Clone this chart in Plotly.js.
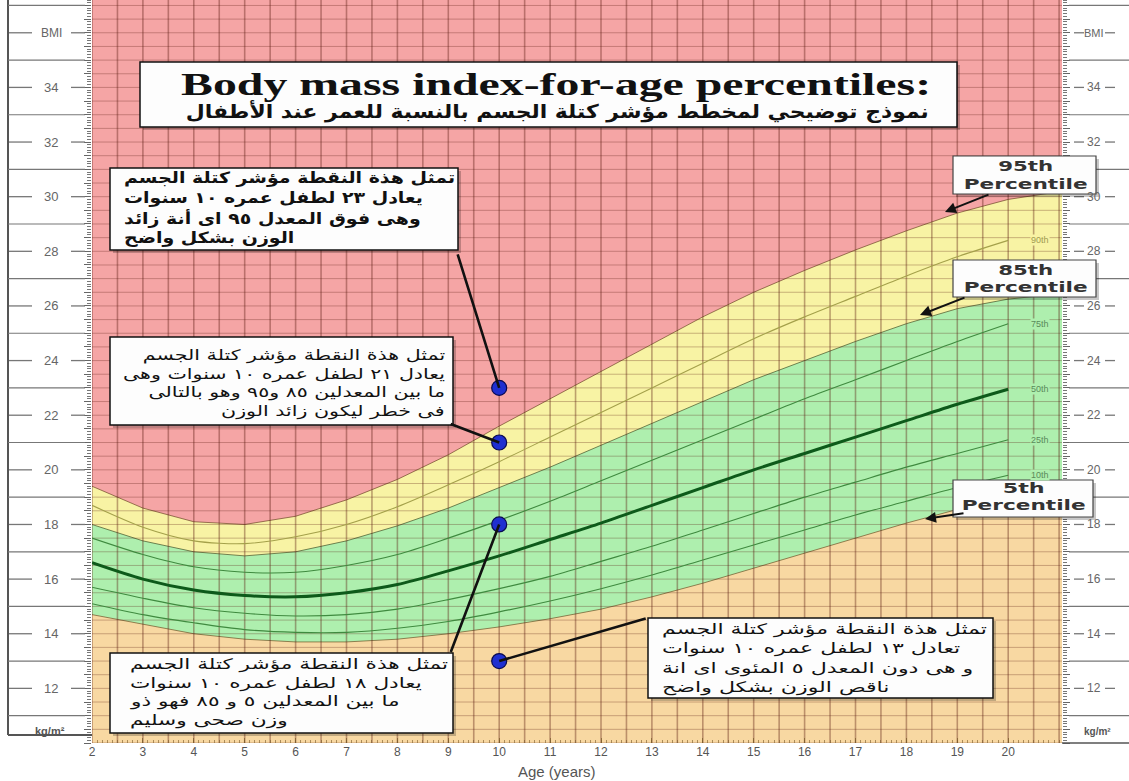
<!DOCTYPE html>
<html><head><meta charset="utf-8">
<script src="https://cdn.plot.ly/plotly-3.0.1.min.js"></script>
<style>html,body{margin:0;padding:0;background:#fff;} #chart{width:1129px;height:781px;}</style>
</head><body><div id="chart"></div>
<script>
// ---------------- data ----------------
const ages = [2,3,4,5,6,7,8,9,10,11,12,13,14,15,16,17,18,19,20];
const p10 = [15.1,14.7,14.4,14.15,14.05,14.05,14.2,14.45,14.8,15.2,15.65,16.15,16.7,17.25,17.8,18.35,18.85,19.35,19.8];
const p25 = [15.7,15.3,14.95,14.75,14.65,14.7,14.9,15.25,15.65,16.1,16.65,17.2,17.8,18.4,19.0,19.55,20.1,20.6,21.1];
const p50 = [16.6,16.0,15.6,15.4,15.35,15.5,15.8,16.3,16.85,17.45,18.05,18.7,19.35,20.0,20.6,21.2,21.8,22.4,22.95];
const p75 = [17.5,16.9,16.45,16.25,16.25,16.5,16.9,17.5,18.15,18.85,19.6,20.35,21.1,21.85,22.6,23.3,24.0,24.7,25.35];
const p90 = [18.7,17.9,17.4,17.3,17.55,18.0,18.65,19.45,20.3,21.2,22.1,23.0,23.9,24.8,25.6,26.35,27.1,27.8,28.4];

const bandAges = [2,3,4,5,6,7,8,9,10,11,12,13,14,15,16,17,18,19,20,21.06];
const band5  = [14.7,14.35,14.0,13.8,13.7,13.7,13.8,14.0,14.25,14.55,14.9,15.35,15.85,16.4,16.95,17.5,18.05,18.55,19.0,19.3];
const band85 = [18.0,17.4,17.0,16.85,17.0,17.4,17.95,18.6,19.35,20.1,20.9,21.7,22.5,23.3,24.0,24.7,25.35,25.9,26.25,26.45];
const band95 = [19.4,18.6,18.1,18.0,18.3,18.9,19.65,20.55,21.6,22.6,23.6,24.6,25.6,26.5,27.3,28.05,28.75,29.4,29.9,30.2];

const pointAges = [10,10,10,10];
const pointBMI  = [23,21,18,13];

const xTickVals = [2,3,4,5,6,7,8,9,10,11,12,13,14,15,16,17,18,19,20];
const yLabelVals = [12,14,16,18,20,22,24,26,28,30,32,34];
const pctNames = ['90th','75th','50th','25th','10th'];
const bandNames = ['95th','85th','5th'];

const titleText = 'Body mass index-for-age percentiles:';
const subtitleText = 'نموذج توضيحي لمخطط مؤشر كتلة الجسم بالنسبة للعمر عند الأطفال';
const note1 = ['تمثل هذة النقطة مؤشر كتلة الجسم','يعادل ٢٣ لطفل عمره ١٠ سنوات','وهى فوق المعدل ٩٥ اى أنة زائد','الوزن بشكل واضح'];
const note2 = ['تمثل هذة النقطة مؤشر كتلة الجسم','يعادل ٢١ لطفل عمره ١٠ سنوات وهى','ما بين المعدلين ٨٥ و٩٥ وهو بالتالى','فى خطر ليكون زائد الوزن'];
const note3 = ['تمثل هذة النقطة مؤشر كتلة الجسم','يعادل ١٨ لطفل عمره ١٠ سنوات','ما بين المعدلين ٥ و ٨٥ فهو ذو','وزن صحى وسليم'];
const note4 = ['تمثل هذة النقطة مؤشر كتلة الجسم','تعادل ١٣ لطفل عمره ١٠ سنوات','و هى دون المعدل ٥ المئوى اى انة','ناقص الوزن بشكل واضح'];

// ---------------- geometry helpers ----------------
const L = 92, R = 1062, T = 0, B = 743;
const X0 = 2, X1 = 2 + (R - L) / 50.9;
const Y0 = 10.0, Y1 = 37.2;
const fx = px => (px - L) / (R - L);
const fy = py => (B - py) / (B - T);

const PINK = '#f5a5a5', YELLOW = '#f8f3a4', GREEN = '#aeefae', ORANGE = '#f8d8a2';

// ---------------- traces ----------------
const traces = [];
traces.push({x: bandAges, y: band5, type:'scatter', mode:'lines', fill:'tozeroy', fillcolor: ORANGE,
  line:{color:'rgba(110,90,40,0.7)', width:1}, hoverinfo:'skip'});
traces.push({x: bandAges, y: band85, type:'scatter', mode:'lines', fill:'tonexty', fillcolor: GREEN,
  line:{color:'rgba(60,90,40,0.7)', width:1}, hoverinfo:'skip'});
traces.push({x: bandAges, y: band95, type:'scatter', mode:'lines', fill:'tonexty', fillcolor: YELLOW,
  line:{color:'rgba(110,70,40,0.7)', width:1}, hoverinfo:'skip'});

// grid
const vx = [], vy = [], hx = [], hy = [];
for (let a = 2; a <= X1 + 0.001; a += 0.5) { vx.push(a, a, null); vy.push(Y0, Y1, null); }
for (let b = 10; b <= Y1; b += 0.5) { hx.push(X0, X1, null); hy.push(b, b, null); }
traces.push({x: hx, y: hy, type:'scatter', mode:'lines', line:{color:'rgba(90,25,15,0.30)', width:1}, hoverinfo:'skip'});
traces.push({x: vx, y: vy, type:'scatter', mode:'lines', line:{color:'rgba(90,25,15,0.38)', width:1.6}, hoverinfo:'skip'});

// percentile lines
const pctData = [p90, p75, p50, p25, p10];
const pctColor = ['#a4a04a', '#3f8a3f', '#0d5a1a', '#3f8a3f', '#3f8a3f'];
pctData.forEach((arr, i) => {
  traces.push({x: ages, y: arr, type:'scatter', mode:'lines', line:{color: pctColor[i], width: i === 2 ? 3 : 1.1, shape:'spline', smoothing:0.8}, hoverinfo:'skip'});
});

// points
traces.push({x: pointAges, y: pointBMI, type:'scatter', mode:'markers',
  marker:{size:15, color:'#1f2fd0', line:{color:'#0a0a50', width:1.2}}, hoverinfo:'skip'});
// right axis holder
traces.push({x:[X0], y:[Y0], yaxis:'y2', type:'scatter', mode:'markers', marker:{opacity:0}, hoverinfo:'skip'});

// ---------------- shapes ----------------
const shapes = [];
const gray = '#777';
shapes.push({type:'line', xref:'paper', yref:'paper', x0:fx(8), x1:fx(8), y0:fy(0), y1:fy(735), line:{color:'#555', width:2}});
shapes.push({type:'line', xref:'paper', yref:'paper', x0:fx(8), x1:fx(92), y0:fy(735), y1:fy(735), line:{color:'#555', width:2}});
shapes.push({type:'line', xref:'paper', yref:'paper', x0:fx(1062), x1:fx(1129), y0:fy(743), y1:fy(743), line:{color:'#555', width:1.5}});
for (let b = 11; b <= 37; b += 2) {
  shapes.push({type:'line', xref:'paper', yref:'y', x0:fx(8), x1:fx(85), y0:b, y1:b, line:{color:gray, width:1.2}});
  shapes.push({type:'line', xref:'paper', yref:'y', x0:fx(1069), x1:fx(1129), y0:b, y1:b, line:{color:gray, width:1.2}});
}
const dashVals = yLabelVals.concat([36]);
dashVals.forEach(v => {
  shapes.push({type:'line', xref:'paper', yref:'y', x0:fx(9), x1:fx(32), y0:v, y1:v, line:{color:gray, width:1.3}});
  shapes.push({type:'line', xref:'paper', yref:'y', x0:fx(71), x1:fx(85), y0:v, y1:v, line:{color:gray, width:1.3}});
  shapes.push({type:'line', xref:'paper', yref:'y', x0:fx(1074), x1:fx(1084), y0:v, y1:v, line:{color:gray, width:1.3}});
  shapes.push({type:'line', xref:'paper', yref:'y', x0:fx(1105), x1:fx(1115), y0:v, y1:v, line:{color:gray, width:1.3}});
});
function box(x0, y0, x1, y1, lw, lc) {
  shapes.push({type:'rect', xref:'paper', yref:'paper', x0:fx(x0+3), x1:fx(x1+3), y0:fy(y0+3), y1:fy(y1+3), fillcolor:'rgba(0,0,0,0.22)', line:{width:0}, layer:'above'});
  shapes.push({type:'rect', xref:'paper', yref:'paper', x0:fx(x0), x1:fx(x1), y0:fy(y0), y1:fy(y1), fillcolor:'#fdfdfd', line:{color:lc || '#111', width:lw || 1.5}, layer:'above'});
}
box(140, 62, 957, 127, 1.5);
box(110, 168, 458, 250, 1.5);
box(110, 337, 453, 425, 1.5);
box(110, 653, 453, 733, 1.5);
box(648, 618, 993, 698, 1.5);
box(953, 156, 1096, 194, 1.2, '#444');
box(953, 260, 1096, 297, 1.2, '#444');
box(953, 480, 1093, 517, 1.2, '#444');

// ---------------- annotations ----------------
const ann = [];
const stretchJobs = [];
const ARF = 'DejaVu Sans, sans-serif';
const LIB = 'Liberation Sans, Arial, sans-serif';
function A(o) {
  const d = {xanchor:'center', yanchor:'middle', showarrow:false, xref:'paper', yref:'paper'};
  ann.push(Object.assign(d, o));
  return ann.length - 1;
}
yLabelVals.forEach(v => {
  A({yref:'y', x:fx(51), y:v, text:String(v), font:{family:LIB, size:13, color:'#666'}});
  A({yref:'y', x:fx(1094), y:v, text:String(v), font:{family:LIB, size:12, color:'#666'}});
});
A({yref:'y', x:fx(51), y:36, text:'BMI', font:{family:LIB, size:12, color:'#666'}});
A({yref:'y', x:fx(1094), y:36, text:'BMI', font:{family:LIB, size:11, color:'#666'}});
A({x:fx(50), y:fy(731), text:'kg/m²', font:{family:LIB, size:11, color:'#555', weight:'bold'}});
A({x:fx(1097), y:fy(731), text:'kg/m²', font:{family:LIB, size:10, color:'#555', weight:'bold'}});
A({x:fx(557), y:fy(771), text:'Age (years)', font:{family:LIB, size:15, color:'#555'}});

// title
stretchJobs.push({idx: A({x:fx(556), y:fy(84), text:titleText, font:{family:'Liberation Serif, Times New Roman, serif', size:32, color:'#111', weight:'bold'}}), target:750});
stretchJobs.push({idx: A({x:fx(557), y:fy(112), text:subtitleText, font:{family:ARF, size:19, color:'#111', weight:'bold'}}), target:743});

// callouts
const noteSpecs = [
  {lines:note1, edge:122, anchor:'left',  ys:[178,198,218,238], size:15.5, weight:'bold',   target:331},
  {lines:note2, edge:447, anchor:'right', ys:[355,374,392,411], size:14.5, weight:'normal', target:322},
  {lines:note3, edge:128, anchor:'left',  ys:[664,683,701,720], size:14.5, weight:'normal', target:318},
  {lines:note4, edge:660, anchor:'left',  ys:[629,648,668,687], size:14.5, weight:'normal', target:325}
];
const groupJobs = [];
noteSpecs.forEach(s => {
  const ids = s.lines.map((t, i) => A({x:fx(s.edge), y:fy(s.ys[i]), xanchor:s.anchor, align:s.anchor, text:t,
    font:{family:ARF, size:s.size, color:'#111', weight:s.weight}}));
  groupJobs.push({ids: ids, target: s.target});
});

// leaders from boxes to dots
const leadOff = [[-42, -135], [-50, -19], [-49, 129], [148, -43]];
pointAges.forEach((a, i) => {
  ann.push({x:a, y:pointBMI[i], xref:'x', yref:'y', text:'', showarrow:true, arrowhead:0, arrowwidth:2.6, arrowcolor:'#111',
    ax:leadOff[i][0], ay:leadOff[i][1], standoff:0});
});

// percentile band boxes
const bandBoxY = [[166, 184], [270, 287], [488, 505]];
const bandBoxX = [1025, 1025, 1023];
const bandNameW = [55, 55, 42];
bandNames.forEach((n, i) => {
  stretchJobs.push({idx: A({x:fx(bandBoxX[i]), y:fy(bandBoxY[i][0]), text:n, font:{family:ARF, size:14.5, color:'#333', weight:'bold'}}), target:bandNameW[i]});
  stretchJobs.push({idx: A({x:fx(bandBoxX[i]), y:fy(bandBoxY[i][1]), text:'Percentile', font:{family:ARF, size:13.5, color:'#333', weight:'bold'}}), target:124});
});
const arrowHeads = [[945, 212], [920, 315], [925, 519]];
const arrowTails = [[990, 194], [966, 297], [965, 513]];
arrowHeads.forEach((h, i) => {
  ann.push({xref:'paper', yref:'paper', x:fx(h[0]), y:fy(h[1]), text:'', showarrow:true, arrowhead:2, arrowsize:1.1, arrowwidth:2, arrowcolor:'#111',
    ax:arrowTails[i][0] - h[0], ay:arrowTails[i][1] - h[1], standoff:0});
});
// percentile line labels
pctData.forEach((arr, i) => {
  A({xref:'x', yref:'y', x:20.62, y:arr[arr.length - 1], text:pctNames[i],
    bgcolor: i === 0 ? YELLOW : GREEN, borderpad:0, font:{family:LIB, size:9, color: i === 0 ? '#a09a50' : '#5a8a5a'}});
});

// ---------------- layout ----------------
const layout = {
  width:1129, height:781,
  margin:{l:L, r:1129 - R, t:T, b:781 - B},
  paper_bgcolor:'#ffffff', plot_bgcolor: PINK,
  showlegend:false,
  xaxis:{range:[X0, X1], showgrid:false, zeroline:false, showline:false, tickmode:'array', tickvals:xTickVals,
    ticks:'inside', ticklen:5, tickcolor:'rgba(120,90,40,0.7)',
    minor:{ticks:'inside', dtick:0.1, ticklen:3, tickcolor:'rgba(120,90,40,0.6)'},
    tickfont:{family:LIB, size:12, color:'#555'}},
  yaxis:{range:[Y0, Y1], showgrid:false, zeroline:false, showline:false, showticklabels:false,
    tickmode:'linear', tick0:0, dtick:0.5, ticks:'outside', ticklen:7, tickcolor:'#666',
    minor:{ticks:'outside', dtick:0.1, ticklen:4, tickcolor:'#777'}},
  yaxis2:{range:[Y0, Y1], overlaying:'y', side:'right', anchor:'x', showgrid:false, zeroline:false, showline:false, showticklabels:false,
    tickmode:'linear', tick0:0, dtick:0.5, ticks:'outside', ticklen:7, tickcolor:'#666',
    minor:{ticks:'outside', dtick:0.1, ticklen:4, tickcolor:'#777'}},
  shapes: shapes,
  annotations: ann
};

function textEl(idx) {
  return document.querySelector('#chart .annotation[data-index="' + idx + '"] .annotation-text');
}
function setLen(el, len) {
  if (!el || !(len > 0)) return;
  el.setAttribute('textLength', len.toFixed(1));
  el.setAttribute('lengthAdjust', 'spacingAndGlyphs');
}
Plotly.newPlot('chart', traces, layout, {displayModeBar:false, staticPlot:true}).then(() => {
  stretchJobs.forEach(j => setLen(textEl(j.idx), j.target));
  groupJobs.forEach(g => {
    const els = g.ids.map(textEl);
    const ns = els.map(e => e ? e.getComputedTextLength() : 0);
    const k = g.target / Math.max.apply(null, ns);
    els.forEach((e, i) => setLen(e, ns[i] * k));
  });
});
</script>
</body></html>
